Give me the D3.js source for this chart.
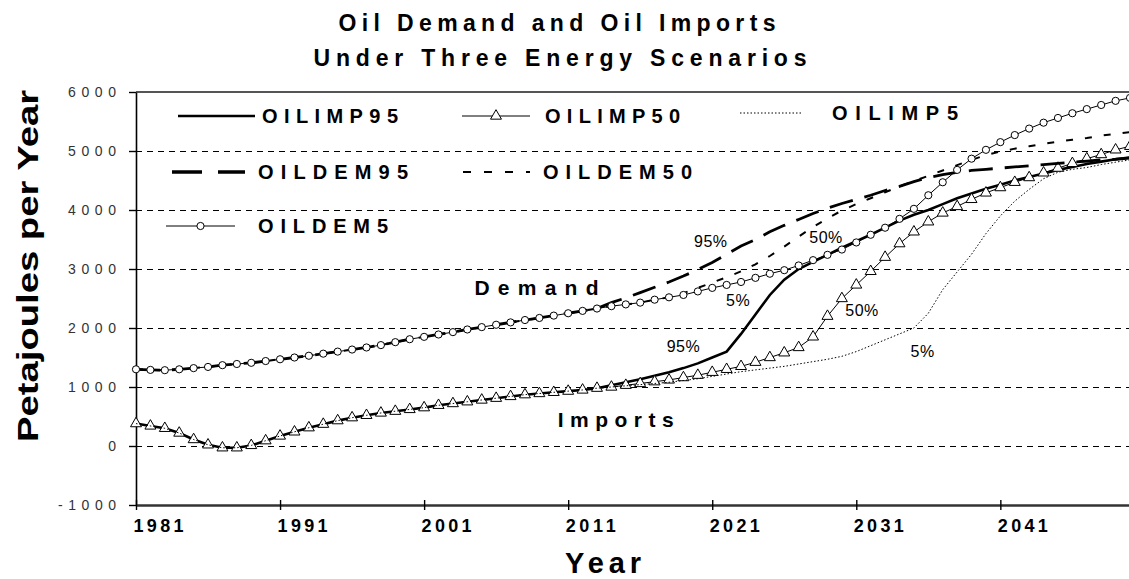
<!DOCTYPE html>
<html>
<head>
<meta charset="utf-8">
<script src="https://d3js.org/d3.v7.min.js"></script>
<style>
  body { margin: 0; background: #fff; }
  text { font-family: "Liberation Sans", Arial, sans-serif; }
</style>
</head>
<body>
<svg id="chart"></svg>
<script>
// years on the category axis
var years = d3.range(1981, 2051);

// shared history, 1981-2013
var demandBase = [1300, 1290, 1285, 1300, 1320, 1340, 1370, 1390, 1410, 1440,
  1470, 1500, 1530, 1565, 1600, 1635, 1670, 1710, 1760, 1810,
  1850, 1890, 1930, 1975, 2015, 2055, 2095, 2135, 2170, 2210,
  2250, 2290, 2330];
var importBase = [380, 340, 300, 220, 110, 20, -30, -30, 10, 90,
  170, 240, 310, 370, 430, 480, 520, 560, 590, 620,
  650, 690, 720, 750, 780, 810, 840, 870, 890, 910,
  930, 950, 980];

// scenario paths, 2014-2050
var oilImp95 = importBase.concat([1030, 1080, 1130, 1190, 1250, 1320, 1400, 1500, 1600, 1900,
  2230, 2560, 2820, 3000, 3120, 3240, 3360, 3470, 3580, 3700,
  3820, 3920, 4000, 4100, 4200, 4280, 4360, 4430, 4500, 4560,
  4620, 4680, 4730, 4780, 4820, 4860, 4890]);
var oilImp50 = importBase.concat([1000, 1030, 1060, 1090, 1120, 1160, 1200, 1250, 1300, 1350,
  1420, 1500, 1580, 1670, 1850, 2200, 2500, 2730, 2960, 3200,
  3430, 3630, 3800, 3950, 4060, 4180, 4290, 4380, 4470, 4550,
  4630, 4710, 4790, 4870, 4940, 5020, 5080]);
var oilImp5 = importBase.concat([1000, 1020, 1040, 1060, 1080, 1110, 1140, 1180, 1220, 1260,
  1290, 1320, 1350, 1390, 1430, 1470, 1520, 1600, 1700, 1800,
  1900, 2000, 2250, 2650, 2950, 3250, 3600, 3900, 4150, 4350,
  4530, 4640, 4690, 4720, 4770, 4810, 4850]);
var oilDem95 = demandBase.concat([2430, 2510, 2600, 2690, 2780, 2880, 2990, 3110, 3250, 3390,
  3500, 3630, 3740, 3840, 3940, 4030, 4110, 4180, 4250, 4330,
  4400, 4480, 4550, 4600, 4640, 4670, 4690, 4710, 4730, 4750,
  4770, 4790, 4810, 4830, 4850, 4860, 4880]);
var oilDem50 = demandBase.concat([2370, 2400, 2430, 2480, 2520, 2590, 2680, 2770, 2860, 2960,
  3080, 3220, 3380, 3550, 3710, 3860, 3990, 4100, 4200, 4300,
  4400, 4490, 4580, 4670, 4760, 4850, 4930, 4990, 5040, 5080,
  5120, 5160, 5190, 5220, 5260, 5290, 5320]);
var oilDem5 = demandBase.concat([2370, 2400, 2430, 2480, 2520, 2560, 2620, 2680, 2730, 2780,
  2850, 2920, 2980, 3060, 3150, 3240, 3330, 3450, 3580, 3700,
  3850, 4020, 4250, 4470, 4680, 4870, 5020, 5150, 5270, 5380,
  5480, 5560, 5640, 5710, 5780, 5850, 5900]);

var yTicks = [-1000, 0, 1000, 2000, 3000, 4000, 5000, 6000];
var xTicks = [1981, 1991, 2001, 2011, 2021, 2031, 2041];

var seriesNames = ["OILIMP95", "OILIMP50", "OILIMP5", "OILDEM95", "OILDEM50", "OILDEM5"];
var seriesValues = [oilImp95, oilImp50, oilImp5, oilDem95, oilDem50, oilDem5];

// in-plot notes: text, year, value
var noteText = ["95%", "50%", "5%", "95%", "50%", "5%"];
var noteYear = [2020.9, 2028.9, 2022.8, 2019.0, 2031.4, 2035.6];
var noteValue = [3475, 3540, 2475, 1680, 2290, 1610];

var W = 1129, H = 579;
var svg = d3.select("#chart").attr("width", W).attr("height", H);

var x = d3.scaleLinear().domain([1981, 2050]).range([136, 1130]);
var y = d3.scaleLinear().domain([-1000, 6000]).range([505, 92]);

// styles per series
var styles = {
  OILIMP95: { width: 2.6, dash: null, marker: null },
  OILIMP50: { width: 1, dash: null, marker: "tri" },
  OILIMP5:  { width: 1, dash: "1.5,2", marker: null },
  OILDEM95: { width: 2.8, dash: "24,12", marker: null },
  OILDEM50: { width: 2, dash: "7,12", marker: null },
  OILDEM5:  { width: 1, dash: null, marker: "circ" }
};

// titles
svg.append("text").attr("x", 557).attr("y", 31).attr("text-anchor", "middle")
  .attr("font-size", 23).attr("font-weight", "bold")
  .attr("textLength", 437).attr("lengthAdjust", "spacing")
  .text("Oil Demand and Oil Imports");
svg.append("text").attr("x", 560).attr("y", 66).attr("text-anchor", "middle")
  .attr("font-size", 23).attr("font-weight", "bold")
  .attr("textLength", 493).attr("lengthAdjust", "spacing")
  .text("Under Three Energy Scenarios");

// gridlines
svg.append("g").selectAll("line").data(yTicks.filter(function(d) { return d > -1000 && d < 6000; }))
  .enter().append("line")
  .attr("x1", 136).attr("x2", W)
  .attr("y1", function(d) { return Math.round(y(d)) + 0.5; }).attr("y2", function(d) { return Math.round(y(d)) + 0.5; })
  .attr("stroke", "#000").attr("stroke-width", 1.5).attr("stroke-dasharray", "6,5")
  .attr("shape-rendering", "crispEdges");

// top frame
svg.append("line").attr("x1", 136).attr("x2", W).attr("y1", y(6000)).attr("y2", y(6000))
  .attr("stroke", "#555").attr("stroke-width", 2);

// y axis
var yAxis = svg.append("g").attr("transform", "translate(136,0)")
  .call(d3.axisLeft(y).tickValues(yTicks).tickSize(7).tickSizeOuter(0).tickFormat(function(d) { return d; }));
yAxis.select(".domain").attr("stroke", "#000").attr("stroke-width", 1.6);
yAxis.selectAll(".tick line").attr("stroke", "#000").attr("stroke-width", 1.4);
yAxis.selectAll(".tick text").attr("font-size", 14).attr("fill", "#333")
  .attr("x", -20)
  .attr("textLength", function(d) { return d < 0 ? 58 : (d === 0 ? 9 : 48); })
  .attr("lengthAdjust", "spacing");

// x axis
var xAxis = svg.append("g").attr("transform", "translate(0," + y(-1000) + ")")
  .call(d3.axisBottom(x).tickValues(xTicks).tickSize(5).tickSizeOuter(0).tickFormat(function(d) { return d; }));
xAxis.select(".domain").attr("stroke", "#333").attr("stroke-width", 2.6);
xAxis.selectAll(".tick line").attr("stroke", "#000").attr("stroke-width", 1.4).attr("y1", -5);
xAxis.selectAll(".tick text").attr("font-size", 18).attr("font-weight", "bold").attr("fill", "#000")
  .attr("textLength", 50).attr("lengthAdjust", "spacing")
  .attr("dx", 22).attr("y", 14);

// axis titles
svg.append("text").attr("x", 603).attr("y", 573).attr("text-anchor", "middle")
  .attr("font-size", 29).attr("font-weight", "bold")
  .attr("textLength", 76).attr("lengthAdjust", "spacing")
  .text("Year");
svg.append("text").attr("transform", "translate(38,266) rotate(-90)").attr("text-anchor", "middle")
  .attr("font-size", 29).attr("font-weight", "bold")
  .attr("textLength", 352).attr("lengthAdjust", "spacingAndGlyphs")
  .text("Petajoules per Year");

// series
var line = d3.line().x(function(d, i) { return x(years[i]); }).y(function(d) { return y(d); });
var plot = svg.append("g");
var tri = d3.symbol().type(d3.symbolTriangle).size(52);

seriesNames.forEach(function(name, k) {
  var st = styles[name];
  var vals = seriesValues[k];
  plot.append("path").datum(vals).attr("d", line)
    .attr("fill", "none").attr("stroke", "#000")
    .attr("stroke-width", st.width)
    .attr("stroke-dasharray", st.dash);
  if (st.marker === "tri") {
    plot.append("g").selectAll("path").data(vals).enter().append("path")
      .attr("d", tri)
      .attr("transform", function(d, i) { return "translate(" + x(years[i]) + "," + y(d) + ")"; })
      .attr("fill", "#fff").attr("stroke", "#000").attr("stroke-width", 1);
  }
  if (st.marker === "circ") {
    plot.append("g").selectAll("circle").data(vals).enter().append("circle")
      .attr("cx", function(d, i) { return x(years[i]); })
      .attr("cy", function(d) { return y(d); })
      .attr("r", 3.6)
      .attr("fill", "#fff").attr("stroke", "#000").attr("stroke-width", 1);
  }
});

// annotations
svg.append("text").attr("x", x(2008.8)).attr("y", y(2680)).attr("dy", "0.35em")
  .attr("text-anchor", "middle").attr("font-size", 21).attr("font-weight", "bold")
  .attr("textLength", 124).attr("lengthAdjust", "spacing").text("Demand");
svg.append("text").attr("x", x(2014.3)).attr("y", y(440)).attr("dy", "0.35em")
  .attr("text-anchor", "middle").attr("font-size", 21).attr("font-weight", "bold")
  .attr("textLength", 116).attr("lengthAdjust", "spacing").text("Imports");
svg.append("g").selectAll("text").data(noteText).enter().append("text")
  .attr("x", function(d, i) { return x(noteYear[i]); })
  .attr("y", function(d, i) { return y(noteValue[i]); })
  .attr("dy", "0.35em").attr("text-anchor", "middle")
  .attr("font-size", 16).attr("letter-spacing", 0.5)
  .text(function(d) { return d; });

// legend (no frame)
var legX1 = [178, 462, 740, 172, 463, 166];
var legX2 = [255, 530, 803, 245, 530, 235];
var legY  = [116, 116, 113, 172, 172, 226];
var legTx = [262, 545, 832, 258, 543, 258];
var legLen = [136, 135, 126, 150, 149, 130];
var leg = svg.append("g");
seriesNames.forEach(function(name, k) {
  var st = styles[name];
  leg.append("line").attr("x1", legX1[k]).attr("x2", legX2[k]).attr("y1", legY[k]).attr("y2", legY[k])
    .attr("stroke", "#000").attr("stroke-width", name === "OILDEM95" ? 3.4 : st.width)
    .attr("stroke-dasharray", name === "OILDEM95" ? "30,16" : (name === "OILDEM50" ? "8,13" : st.dash));
  var mx = (legX1[k] + legX2[k]) / 2;
  if (st.marker === "tri") {
    leg.append("path").attr("d", tri).attr("transform", "translate(" + mx + "," + legY[k] + ")")
      .attr("fill", "#fff").attr("stroke", "#000");
  }
  if (st.marker === "circ") {
    leg.append("circle").attr("cx", mx).attr("cy", legY[k]).attr("r", 3.6)
      .attr("fill", "#fff").attr("stroke", "#000");
  }
  leg.append("text").attr("x", legTx[k]).attr("y", legY[k]).attr("dy", "0.36em")
    .attr("font-size", 20).attr("font-weight", "bold")
    .attr("textLength", legLen[k]).attr("lengthAdjust", "spacing")
    .text(name);
});
</script>
</body>
</html>
